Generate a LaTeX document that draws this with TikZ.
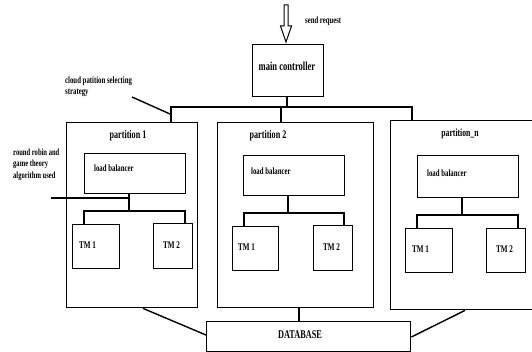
\documentclass[tikz,border=0pt]{standalone}
\usepackage{fontspec}
\setmainfont[FakeStretch=0.7]{Liberation Serif}
\begin{document}
\begin{tikzpicture}[x=1pt,y=-1pt,
  ln/.style={line width=1.4pt},
  box/.style={draw,line width=1.4pt,rectangle,inner sep=0pt,anchor=north west},
  txt/.style={inner sep=0pt,font=\bfseries\fontsize{#1}{#1}\selectfont},
  txt/.default=7
]
\useasboundingbox (0,0) rectangle (532,352);
\clip (0,0) rectangle (532,352);
% arrow
\draw[line width=1pt] (284,5) -- (288,5) -- (288,26) -- (291.5,26) -- (286,42) -- (280.5,26) -- (284,26) -- cycle;
\node[txt=9.6,anchor=west] (sr) at (305,21) {send request};
% main controller
\node[box,minimum width=71pt,minimum height=52pt] (mc) at (252,44) {};
\node[txt=12.2] (mct) at (287,66) {main controller};
% partitions
\node[box,minimum width=131pt,minimum height=185pt] (p1) at (66,122) {};
\node[box,minimum width=156pt,minimum height=185pt] (p2) at (217,122) {};
\node[box,minimum width=160pt,minimum height=189pt] (pn) at (390,120) {};
\node[txt=11.6] (p1t) at (128,136) {partition 1};
\node[txt=11.6] (p2t) at (268,136) {partition 2};
\node[txt=11] (pnt) at (460,134) {partition\_n};
% load balancers
\node[box,minimum width=101pt,minimum height=40pt] (lb1) at (84,153) {};
\node[box,minimum width=101pt,minimum height=40pt] (lb2) at (243,155) {};
\node[box,minimum width=101pt,minimum height=42pt] (lbn) at (417,155) {};
\node[txt=9.7,anchor=west] (lb1t) at (94,168) {load balancer};
\node[txt=9.7,anchor=west] (lb2t) at (251,171) {load balancer};
\node[txt=9.7,anchor=west] (lbnt) at (427,173) {load balancer};
% TMs
\node[box,minimum width=47pt,minimum height=44pt] (t1a) at (72,224) {};
\node[box,minimum width=39pt,minimum height=45pt] (t1b) at (153,223) {};
\node[box,minimum width=46pt,minimum height=44pt] (t2a) at (232,226) {};
\node[box,minimum width=39pt,minimum height=45pt] (t2b) at (313,225) {};
\node[box,minimum width=47pt,minimum height=44pt] (tna) at (405,228) {};
\node[box,minimum width=39pt,minimum height=44pt] (tnb) at (486,228) {};
\node[txt=10.2,anchor=west] (t1at) at (79,245) {TM 1};
\node[txt=10.2,anchor=west] (t1bt) at (163,245) {TM 2};
\node[txt=10.2,anchor=west] (t2at) at (238,247) {TM 1};
\node[txt=10.2,anchor=west] (t2bt) at (323,247) {TM 2};
\node[txt=10.2,anchor=west] (tnat) at (412,249) {TM 1};
\node[txt=10.2,anchor=west] (tnbt) at (496,249) {TM 2};
% database
\node[box,minimum width=204pt,minimum height=30pt] (db) at (206,321) {};
\node[txt=11.8] (dbt) at (300,335) {DATABASE};
% side labels
\node[txt=9.7,anchor=west] (cl1) at (65,81) {cloud patition selecting};
\node[txt=9.7,anchor=west] (cl2) at (65,93) {strategy};
\node[txt=9.4,anchor=west] (rr1) at (13,152) {round robin and};
\node[txt=9.4,anchor=west] (rr2) at (13,164) {game theory};
\node[txt=9.4,anchor=west] (rr3) at (13,176) {algorithm used};
% bus from main controller
\coordinate (busL) at (171,107);
\coordinate (busM) at (281,107);
\coordinate (busR) at (412,107);
\draw[ln] (mc.south -| 287,0) -- (287,107);
\draw[ln] (p1.north -| busL) -- (busL) -- (busR) -- (pn.north -| busR);
\draw[ln] (busM) -- (p2.north -| busM);
\coordinate (clEnd) at (170,114);
\draw[ln] (132,97) -- (clEnd);
% partition 1 tree
\coordinate (s1) at (129,211);
\draw[ln] (lb1.south -| s1) -- (s1);
\draw[ln] (t1a.north -| 84,0) -- (84,211) -- (185,211) -- (t1b.north -| 185,0);
\coordinate (rrEnd) at (51,198);
\draw[ln] (rrEnd) -- (129,198);
% partition 2 tree
\coordinate (s2) at (288,213);
\draw[ln] (lb2.south -| s2) -- (s2);
\draw[ln] (t2a.north -| 244,0) -- (244,213) -- (344,213) -- (t2b.north -| 344,0);
% partition n tree
\coordinate (sn) at (462,215);
\draw[ln] (lbn.south -| sn) -- (sn);
\draw[ln] (tna.north -| 417,0) -- (417,215) -- (518,215) -- (tnb.north -| 518,0);
% database links
\draw[ln] (p1.south -| 143,0) -- (db.west |- 0,335);
\draw[ln] (p2.south -| 299,0) -- (db.north -| 299,0);
\draw[ln] (pn.south -| 465,0) -- (db.east |- 0,337);
\end{tikzpicture}
\end{document}
